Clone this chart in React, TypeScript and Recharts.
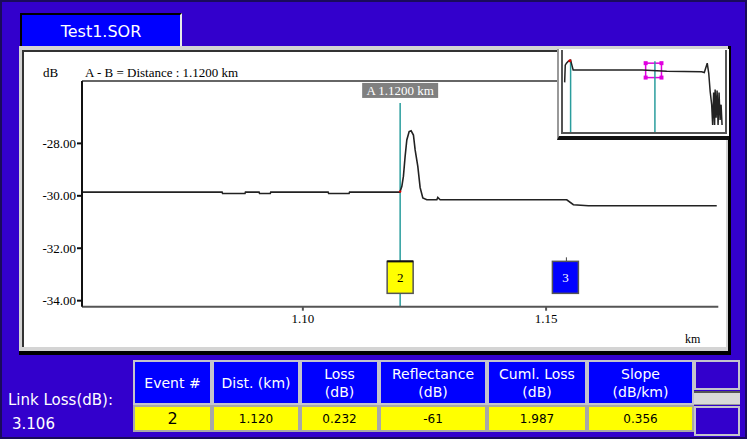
import React from 'react'
import { LineChart, Line, XAxis, YAxis, ReferenceLine, ReferenceDot, ReferenceArea } from 'recharts'

// zoomed trace around event 2
const traceKm = [
  1.0546, 1.0834, 1.0835, 1.0881, 1.0882, 1.091, 1.0911, 1.0933, 1.0934, 1.1052, 1.1053, 1.1095, 1.1096,
  1.1199, 1.12, 1.12035, 1.12067, 1.12102, 1.12137, 1.12185, 1.12226, 1.12273, 1.12308, 1.12363, 1.12411,
  1.12466, 1.12548, 1.12754, 1.12774, 1.12822, 1.15425, 1.15561, 1.15869, 1.18508,
]
const traceDb = [
  -29.86, -29.86, -29.91, -29.91, -29.86, -29.86, -29.91, -29.91, -29.86, -29.86, -29.91, -29.91, -29.86,
  -29.86, -29.83, -29.64, -29.26, -28.5, -27.87, -27.55, -27.52, -27.68, -28.25, -28.88, -29.69,
  -30.08, -30.15, -30.15, -30.06, -30.15, -30.15, -30.34, -30.38, -30.38,
]

const yTicks = [-28, -30, -32, -34]
const xTicks = [1.1, 1.15]
const xDomain = [1.0546, 1.1854]
const yDomain = [-34.23, -25.62]

const cursorKm = 1.12
const cursorLabel = 'A 1.1200 km'
const eventIds = ['2', '3']
const eventKm = [1.12, 1.15397]
const eventLevel = -33.11

// whole-fiber overview for the small window
const overviewKm = [
  -0.079, -0.071, -0.055, -0.029, 0.0, 0.017, 0.034, 0.95, 1.277, 1.74, 1.776, 1.815, 1.835, 1.854,
  1.874, 1.887, 1.9, 1.913, 1.92, 1.933, 1.946, 1.959, 1.972, 1.986, 1.999, 2.012,
]
const overviewDb = [
  -34.9, -28.1, -27.3, -26.5, -26.1, -28.1, -30.0, -30.0, -30.5, -30.7, -31.0, -27.3, -31.3, -38.5,
  -43.7, -51.7, -38.9, -51.7, -37.7, -48.9, -38.1, -51.7, -38.9, -49.7, -43.7, -51.7,
]
const overviewCursors = [0, 1.12]

const tableHeads = [['Event #'], ['Dist. (km)'], ['Loss', '(dB)'], ['Reflectance', '(dB)'], ['Cuml. Loss', '(dB)'], ['Slope', '(dB/km)']]
const tableValues = ['2', '1.120', '0.232', '-61', '1.987', '0.356']
const linkLoss = '3.106'

const COL_LEFT = [131, 210, 298, 377, 485, 585]
const COL_W = [79, 88, 79, 108, 100, 107]

const BG = '#3300cc'
const SERIF = '"Liberation Serif", "DejaVu Serif", serif'
const SANS = '"DejaVu Sans", sans-serif'

const traceData = traceKm.map((km, i) => ({ km, db: traceDb[i] }))
const overviewData = overviewKm.map((km, i) => ({ km, db: overviewDb[i] }))

const EventBox = (props: any) => {
  const { cx, cy, id } = props
  const blue = id === '3'
  return (
    <g>
      {blue && <line x1={cx + 1} x2={cx + 1} y1={cy - 20} y2={cy - 16} stroke="#444" />}
      <rect x={cx - 13} y={cy - 16} width={26} height={32} fill={blue ? '#0000ff' : '#ffff00'} stroke="#555" strokeWidth={1.5} />
      {!blue && <line x1={cx - 13} x2={cx + 13} y1={cy - 16} y2={cy - 16} stroke="#111" strokeWidth={2} />}
      <text x={cx} y={cy + 5} textAnchor="middle" fontFamily={SERIF} fontSize={13} fill={blue ? '#fff' : '#000'}>
        {id}
      </text>
    </g>
  )
}

const CursorTag = (props: any) => {
  const { cx, cy } = props
  return (
    <g>
      <rect x={cx - 38} y={cy - 7.5} width={76} height={15} fill="#808080" />
      <text x={cx} y={cy + 4.5} textAnchor="middle" fontFamily={SERIF} fontSize={13} fill="#fff">
        {cursorLabel}
      </text>
    </g>
  )
}

const SelBox = (props: any) => {
  const { x, y, width, height } = props
  const corners = [[x, y], [x + width, y], [x, y + height], [x + width, y + height]]
  return (
    <g>
      <rect x={x} y={y} width={width} height={height} fill="none" stroke="#e000e0" strokeWidth={1.5} />
      {corners.map(([px, py], i) => (
        <rect key={i} x={px - 2} y={py - 2} width={4} height={4} fill="#e000e0" />
      ))}
    </g>
  )
}

export default function App() {
  return (
    <div
      style={{
        position: 'fixed', left: 0, top: 0, width: 747, height: 439, background: BG,
        boxSizing: 'border-box', border: '2px solid #1a0a5c', overflow: 'hidden',
      }}
    >
      {/* tab */}
      <div
        style={{
          position: 'absolute', left: 18, top: 11, width: 158, height: 35, background: '#0000ff',
          borderTop: '2px solid #000', borderLeft: '2px solid #000', borderRight: '2px solid #e8e8e8',
          color: '#fff', fontFamily: SANS, fontSize: 16, textAlign: 'center', lineHeight: '33px',
        }}
      >
        Test1.SOR
      </div>

      {/* chart panel */}
      <div
        style={{
          position: 'absolute', left: 17, top: 44, width: 712, height: 309, background: '#d4d4d4',
          boxSizing: 'border-box', borderRight: '3px solid #000', borderBottom: '4px solid #000',
        }}
      />
      <div
        style={{
          position: 'absolute', left: 20, top: 48, width: 704, height: 297, background: '#fff',
          boxSizing: 'border-box', borderLeft: '2px solid #333', borderTop: '2px solid #333',
        }}
      />

      <div style={{ position: 'absolute', left: 41, top: 63, fontFamily: SERIF, fontSize: 13, color: '#000' }}>dB</div>
      <div style={{ position: 'absolute', left: 83, top: 63, fontFamily: SERIF, fontSize: 13, color: '#000' }}>
        A - B = Distance : 1.1200 km
      </div>
      <div style={{ position: 'absolute', left: 683, top: 330, fontFamily: SERIF, fontSize: 12, color: '#000' }}>km</div>

      <div style={{ position: 'absolute', left: -2, top: -2 }}>
        <LineChart width={747} height={355} data={traceData} margin={{ top: 81, right: 28.7, left: 0, bottom: 18.3 }}>
          <XAxis
            type="number"
            dataKey="km"
            domain={xDomain}
            ticks={xTicks}
            allowDataOverflow
            height={30}
            stroke="#555"
            strokeWidth={2}
            tickSize={4}
            tickMargin={3}
            tickFormatter={(v: number) => v.toFixed(2)}
            tick={{ fontFamily: SERIF, fontSize: 13, fill: '#000' }}
          />
          <YAxis
            type="number"
            domain={yDomain}
            ticks={yTicks}
            allowDataOverflow
            width={82}
            stroke="#111"
            strokeWidth={2}
            tickSize={5}
            tickMargin={1}
            tickFormatter={(v: number) => v.toFixed(2)}
            tick={{ fontFamily: SERIF, fontSize: 13, fill: '#000' }}
          />
          <ReferenceLine y={yDomain[1]} stroke="#333" strokeWidth={1.5} ifOverflow="visible" />
          <ReferenceLine
            segment={[{ x: cursorKm, y: yDomain[0] }, { x: cursorKm, y: -26.46 }]}
            stroke="#2a9d9d"
            strokeWidth={1.5}
          />
          <Line
            type="linear"
            dataKey="db"
            stroke="#222"
            strokeWidth={1.6}
            dot={false}
            isAnimationActive={false}
          />
          <ReferenceDot x={cursorKm} y={-29.84} r={1.2} fill="#e00000" stroke="none" />
          <ReferenceDot x={cursorKm} y={-25.98} shape={(p: any) => <CursorTag {...p} />} />
          {eventIds.map((id, i) => (
            <ReferenceDot key={id} x={eventKm[i]} y={eventLevel} shape={(p: any) => <EventBox {...p} id={id} />} />
          ))}
        </LineChart>
      </div>

      {/* overview window */}
      <div
        style={{
          position: 'absolute', left: 555, top: 47, width: 172, height: 91, background: '#fff',
          boxSizing: 'border-box', borderLeft: '2px solid #999', borderBottom: '4px solid #111',
        }}
      />
      <div
        style={{
          position: 'absolute', left: 559, top: 48, width: 166, height: 84, background: '#fff',
          boxSizing: 'border-box', border: '2px solid #555', borderTop: 'none',
        }}
      >
        <LineChart width={162} height={82} data={overviewData} margin={{ top: 0, right: 0, left: 0, bottom: 0 }}>
          <XAxis type="number" dataKey="km" domain={[-0.101, 2.051]} hide allowDataOverflow />
          <YAxis type="number" domain={[-54.5, -22.1]} hide allowDataOverflow />
          {overviewCursors.map((km) => (
            <ReferenceLine key={km} segment={[{ x: km, y: -54.5 }, { x: km, y: -26.5 }]} stroke="#2a9d9d" strokeWidth={1.5} />
          ))}
          <Line type="linear" dataKey="db" stroke="#222" strokeWidth={1.5} dot={false} isAnimationActive={false} />
          <ReferenceDot x={-0.01} y={-26.3} r={1.5} fill="#e00000" stroke="none" />
          <ReferenceArea x1={0.997} x2={1.207} y1={-33.0} y2={-27.3} shape={(p: any) => <SelBox {...p} />} />
        </LineChart>
      </div>

      {/* event table */}
      <div style={{ position: 'absolute', left: 6, top: 389, color: '#fff', fontFamily: SANS, fontSize: 15 }}>Link Loss(dB):</div>
      <div style={{ position: 'absolute', left: 10, top: 413, color: '#fff', fontFamily: SANS, fontSize: 15 }}>{linkLoss}</div>

      {tableHeads.map((lines, i) => (
        <div
          key={'h' + i}
          style={{
            position: 'absolute', left: COL_LEFT[i], top: 358, width: COL_W[i], height: 45, background: '#0000ff',
            boxSizing: 'border-box', border: '2px solid #c4c4cc', color: '#fff', fontFamily: SANS, fontSize: 14,
            display: 'flex', flexDirection: 'column', justifyContent: 'center', alignItems: 'center', lineHeight: '18px',
          }}
        >
          {lines.map((t) => (
            <span key={t}>{t}</span>
          ))}
        </div>
      ))}
      {tableValues.map((v, i) => (
        <div
          key={'v' + i}
          style={{
            position: 'absolute', left: COL_LEFT[i], top: 403, width: COL_W[i], height: 27, background: '#ffff00',
            boxSizing: 'border-box', border: '2px solid #a8a8a8', color: '#000', fontFamily: SANS,
            fontSize: i === 0 ? 16 : 12, display: 'flex', justifyContent: 'center', alignItems: 'center',
          }}
        >
          {v}
        </div>
      ))}

      {/* scroll buttons */}
      <div style={{ position: 'absolute', left: 692, top: 358, width: 46, height: 30, background: BG, boxSizing: 'border-box', border: '2px solid #c4c4cc' }} />
      <div style={{ position: 'absolute', left: 692, top: 389, width: 46, height: 14, background: '#d8d8d8', boxSizing: 'border-box', borderTop: '2px solid #555', borderBottom: '1px solid #999' }} />
      <div style={{ position: 'absolute', left: 692, top: 404, width: 46, height: 30, background: BG, boxSizing: 'border-box', border: '2px solid #c4c4cc' }} />
    </div>
  )
}
